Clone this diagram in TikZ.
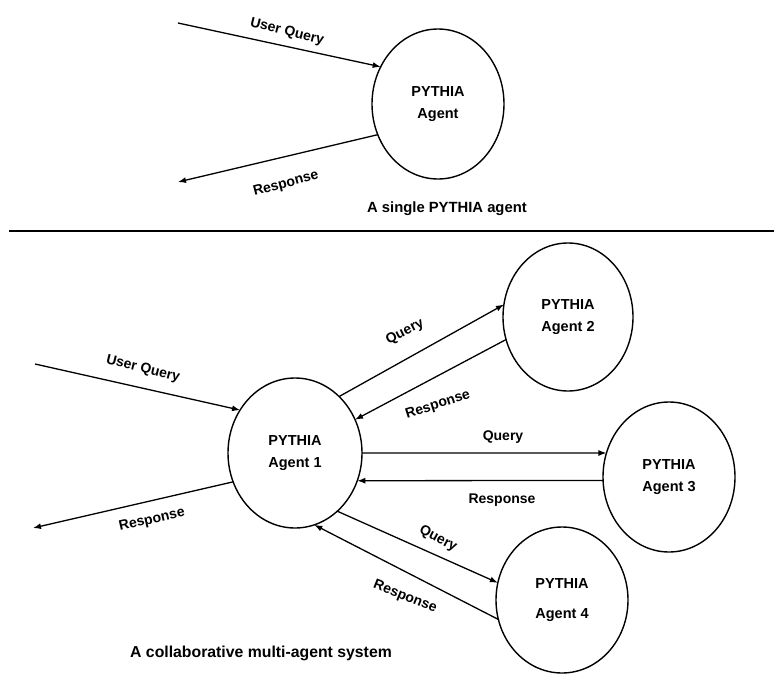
\documentclass[tikz,border=0pt]{standalone}
\usepackage{fontspec}
\setmainfont{Liberation Sans}
\usetikzlibrary{shapes.geometric,arrows.meta}
\tikzset{
  agent/.style={draw, ellipse, line width=1.4pt, inner sep=0pt, outer sep=0pt,
    align=center, font=\bfseries\fontsize{14.5}{22}\selectfont},
  conn/.style={line width=1.3pt, -{Latex[length=8pt,width=6pt]}},
  lbl/.style={font=\bfseries\fontsize{14}{16}\selectfont, inner sep=0pt},
  caption/.style={font=\bfseries\fontsize{14.8}{17}\selectfont, inner sep=0pt, anchor=west}
}
\begin{document}
\begin{tikzpicture}[x=1pt,y=-1pt]
\useasboundingbox (0,0) rectangle (774,675);
% ---------- top: single agent ----------
\node[agent, minimum width=132pt, minimum height=150pt] (a0) at (438,104) {PYTHIA\\Agent};
\coordinate (uq0) at (178,23);
\coordinate (rs0) at (178,182);
\draw[conn] (uq0) -- (a0.147);
\draw[conn] (a0.207) -- (rs0);
\node[lbl, rotate=-14] at (287,32) {User Query};
\node[lbl, rotate=15] at (286,184) {Response};
\node[caption] at (367,209) {A single PYTHIA agent};
% separator
\draw[line width=2.6pt] (9,231) -- (774,231);
% ---------- bottom: multi-agent ----------
\node[agent, minimum width=134pt, minimum height=150pt] (a1) at (295,453) {PYTHIA\\Agent 1};
\node[agent, minimum width=130pt, minimum height=148pt] (a2) at (568,317) {PYTHIA\\Agent 2};
\node[agent, minimum width=132pt, minimum height=150pt] (a3) at (669,477) {PYTHIA\\Agent 3};
\node[agent, minimum width=132pt, minimum height=146pt, font=\bfseries\fontsize{14.5}{30}\selectfont] (a4) at (562,600) {PYTHIA\\Agent 4};
\coordinate (uq1) at (35,364);
\coordinate (rs1) at (33,528);
\draw[conn] (uq1) -- (a1.142);
\draw[conn] (a1.205) -- (rs1);
\draw[conn] (a1.52) -- (a2.169.5);
\draw[conn] (a2.200.4) -- (a1.29);
\draw[conn] (a1.0) -- (a3.159);
\draw[conn] (a3.183.5) -- (a1.-24.2);
\draw[conn] (a1.-54.5) -- (a4.165.2);
\draw[conn] (a4.197.5) -- (a1.-75);
\node[lbl, rotate=-14] at (143,369) {User Query};
\node[lbl, rotate=13] at (152,520) {Response};
\node[lbl, rotate=27] at (405,332) {Query};
\node[lbl, rotate=18] at (438,405) {Response};
\node[lbl] at (503,437) {Query};
\node[lbl] at (502,500) {Response};
\node[lbl, rotate=-28] at (438,539) {Query};
\node[lbl, rotate=-22] at (405,597) {Response};
\node[caption, font=\bfseries\fontsize{15.8}{18}\selectfont] at (130,653) {A collaborative multi-agent system};
\end{tikzpicture}
\end{document}
